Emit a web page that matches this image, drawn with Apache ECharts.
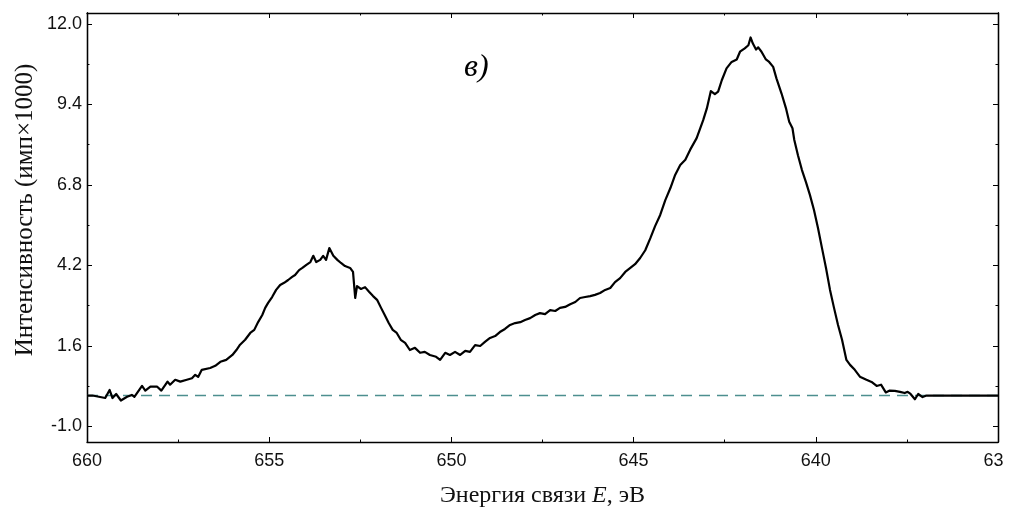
<!DOCTYPE html>
<html>
<head>
<meta charset="utf-8">
<script src="https://cdn.jsdelivr.net/npm/echarts@6/dist/echarts.min.js"></script>
<style>html,body{margin:0;padding:0;background:#fff}#c{width:1011px;height:518px}</style>
</head>
<body>
<div id="c"></div>
<script>
// Binding energy, eV
const energy = [
660.00, 659.85, 659.50, 659.38, 659.30, 659.20, 659.07, 658.90, 658.77, 658.70,
658.49, 658.40, 658.26, 658.08, 657.96, 657.79, 657.72, 657.58, 657.44, 657.26,
657.12, 657.03, 656.95, 656.85, 656.62, 656.48, 656.34, 656.18, 656.01, 655.90,
655.80, 655.66, 655.52, 655.41, 655.30, 655.19, 655.11, 655.03, 654.92, 654.81,
654.70, 654.59, 654.48, 654.37, 654.29, 654.18, 654.09, 653.98, 653.87, 653.79,
653.71, 653.60, 653.52, 653.44, 653.35, 653.24, 653.13, 653.03, 652.92, 652.78,
652.70, 652.64, 652.59, 652.48, 652.37, 652.26, 652.15, 652.04, 651.93, 651.83,
651.72, 651.61, 651.50, 651.39, 651.27, 651.14, 651.00, 650.86, 650.73, 650.59,
650.42, 650.31, 650.17, 650.04, 649.90, 649.76, 649.62, 649.49, 649.35, 649.21,
649.08, 648.94, 648.80, 648.67, 648.53, 648.39, 648.25, 648.11, 647.98, 647.84,
647.70, 647.57, 647.43, 647.29, 647.15, 647.02, 646.88, 646.74, 646.60, 646.47,
646.33, 646.19, 646.06, 645.92, 645.78, 645.64, 645.51, 645.37, 645.23, 645.09,
644.96, 644.82, 644.68, 644.54, 644.41, 644.27, 644.13, 643.99, 643.86, 643.72,
643.58, 643.45, 643.27, 643.09, 642.99, 642.88, 642.77, 642.68, 642.58, 642.45,
642.31, 642.17, 642.08, 641.95, 641.85, 641.79, 641.73, 641.64, 641.58, 641.49,
641.37, 641.28, 641.17, 641.08, 640.94, 640.82, 640.73, 640.64, 640.59, 640.49,
640.38, 640.27, 640.16, 640.05, 639.94, 639.83, 639.72, 639.61, 639.50, 639.39,
639.28, 639.16, 639.06, 638.93, 638.79, 638.61, 638.47, 638.33, 638.21, 638.08,
637.97, 637.83, 637.69, 637.56, 637.48, 637.40, 637.28, 637.19, 637.07, 636.96,
635.00
];
// Intensity, counts x 1000
const intensity = [
0.00, 0.00, -0.08, 0.18, -0.08, 0.05, -0.16, -0.04, 0.02, -0.04,
0.31, 0.16, 0.29, 0.29, 0.16, 0.45, 0.35, 0.51, 0.45, 0.51,
0.56, 0.67, 0.60, 0.83, 0.89, 0.96, 1.09, 1.15, 1.31, 1.47,
1.64, 1.80, 2.02, 2.12, 2.38, 2.60, 2.83, 2.99, 3.18, 3.41,
3.57, 3.64, 3.73, 3.83, 3.89, 4.05, 4.12, 4.22, 4.31, 4.51,
4.31, 4.38, 4.51, 4.38, 4.76, 4.51, 4.38, 4.28, 4.18, 4.12,
3.99, 3.15, 3.53, 3.44, 3.50, 3.35, 3.21, 3.09, 2.83, 2.60,
2.34, 2.12, 2.02, 1.80, 1.70, 1.47, 1.54, 1.38, 1.41, 1.31,
1.25, 1.15, 1.38, 1.31, 1.41, 1.31, 1.44, 1.41, 1.63, 1.60,
1.73, 1.86, 1.92, 2.05, 2.15, 2.28, 2.34, 2.37, 2.44, 2.50,
2.60, 2.66, 2.63, 2.76, 2.73, 2.83, 2.86, 2.95, 3.02, 3.15,
3.18, 3.21, 3.25, 3.31, 3.41, 3.47, 3.66, 3.79, 3.99, 4.12,
4.24, 4.44, 4.69, 5.08, 5.47, 5.83, 6.31, 6.70, 7.12, 7.44,
7.61, 7.93, 8.31, 8.89, 9.27, 9.83, 9.73, 9.81, 10.18, 10.56,
10.77, 10.85, 11.10, 11.21, 11.31, 11.56, 11.37, 11.17, 11.24, 11.10,
10.85, 10.77, 10.61, 10.24, 9.75, 9.28, 8.84, 8.63, 8.25, 7.76,
7.28, 6.89, 6.47, 5.99, 5.41, 4.76, 4.12, 3.41, 2.83, 2.28,
1.80, 1.15, 0.99, 0.83, 0.61, 0.51, 0.44, 0.31, 0.35, 0.10,
0.16, 0.15, 0.12, 0.08, 0.12, 0.05, -0.12, 0.05, -0.05, 0.00,
0.00
];
const baselineValue = 0;
const xTickInterval = 5;
const xMin = 635, xMax = 660;
const yMin = -1.5, yMax = 12.35;
const yMajorTicks = [-1.0, 1.6, 4.2, 6.8, 9.4, 12.0];
const yMinorTicks = [0.3, 2.9, 5.5, 8.1, 10.7];
const panelLabel = 'в)';
const yTitle = 'Интенсивность (имп×1000)';

const chart = echarts.init(document.getElementById('c'), null, {renderer: 'canvas'});
const lineCol = '#000';
const labelFont = {fontFamily: 'Liberation Sans, Arial, sans-serif', fontSize: 18, color: '#111'};
const serif = 'Liberation Serif, Times New Roman, serif';

function yAxisDef(pos, ticks, len, withLabels) {
  return {
    type: 'value', position: pos, min: yMin, max: yMax,
    axisLine: {show: true, lineStyle: {color: lineCol, width: 1.3}},
    axisTick: {show: true, inside: true, length: len, customValues: ticks, lineStyle: {color: lineCol, width: 1}},
    axisLabel: withLabels ? Object.assign({show: true, margin: 5, customValues: ticks,
      formatter: v => v.toFixed(1)}, labelFont) : {show: false},
    splitLine: {show: false}
  };
}
function xAxisDef(pos, withLabels) {
  return {
    type: 'value', position: pos, min: xMin, max: xMax, interval: xTickInterval, inverse: true,
    axisLine: {show: true, onZero: false, lineStyle: {color: lineCol, width: 1.3}},
    axisTick: {show: true, inside: true, length: 5, lineStyle: {color: lineCol, width: 1}},
    minorTick: {show: true, splitNumber: 2, length: 2.5, lineStyle: {color: lineCol, width: 1}},
    axisLabel: withLabels ? Object.assign({show: true, margin: 10, showMaxLabel: true, showMinLabel: true,
      formatter: v => v === xMin ? '{r|63}' : String(v),
      rich: {r: {fontFamily: labelFont.fontFamily, fontSize: 18, color: '#111', padding: [0, 9, 0, 0]}}}, labelFont) : {show: false},
    splitLine: {show: false},
    name: withLabels ? '{n|Энергия связи }{i|E}{n|, эВ}' : '',
    nameLocation: 'middle', nameGap: 42,
    nameTextStyle: {rich: {
      n: {fontFamily: serif, fontSize: 24, color: '#111'},
      i: {fontFamily: serif, fontSize: 24, fontStyle: 'italic', color: '#111'}
    }}
  };
}

chart.setOption({
  animation: false,
  backgroundColor: '#fff',
  grid: {left: 87, right: 13, top: 13, bottom: 76, containLabel: false, outerBoundsMode: 'none'},
  xAxis: [xAxisDef('bottom', true), xAxisDef('top', false)],
  yAxis: [
    yAxisDef('left', yMajorTicks, 5, true),
    yAxisDef('left', yMinorTicks, 2.5, false),
    yAxisDef('right', yMajorTicks, 5, false),
    yAxisDef('right', yMinorTicks, 2.5, false)
  ],
  graphic: [
    {type: 'text', left: 464, top: 52, style: {text: panelLabel,
      font: 'italic 32px "Liberation Serif", "Times New Roman", serif', fill: '#000'}},
    {type: 'text', x: 25, y: 210, rotation: Math.PI / 2, style: {text: yTitle,
      font: '25px "Liberation Serif", "Times New Roman", serif', fill: '#111',
      align: 'center', verticalAlign: 'middle'}}
  ],
  series: [
    {type: 'line', xAxisIndex: 0, yAxisIndex: 0, symbol: 'none', silent: true, z: 1,
      data: [[xMax, baselineValue], [xMin, baselineValue]],
      lineStyle: {color: '#4d8f8f', width: 1.5, type: [11, 7]}},
    {type: 'line', xAxisIndex: 0, yAxisIndex: 0, symbol: 'none', silent: true, z: 2,
      data: energy.map((e, i) => [e, intensity[i]]),
      lineStyle: {color: '#000', width: 2.2, join: 'round'}}
  ]
});
</script>
</body>
</html>
